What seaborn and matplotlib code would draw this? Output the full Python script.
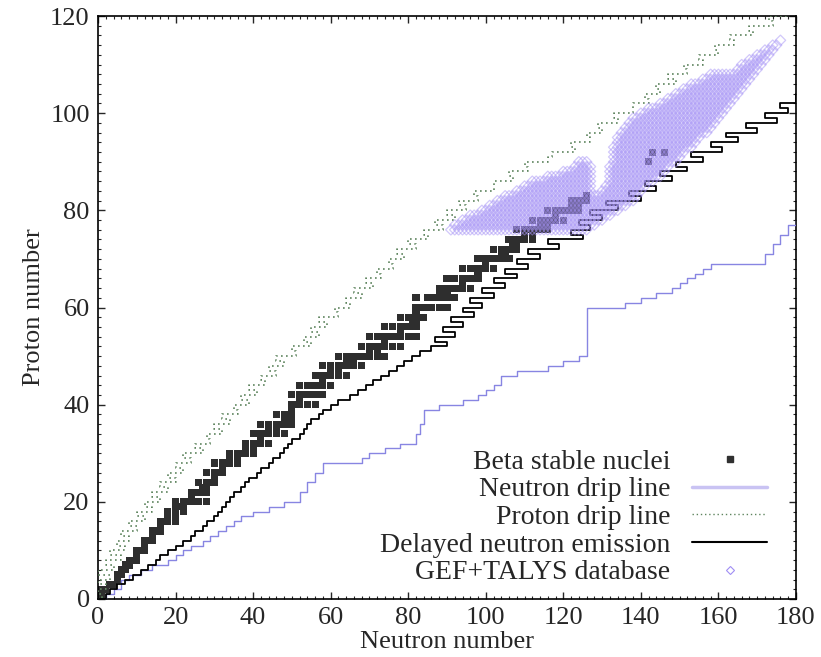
import matplotlib
matplotlib.use("Agg")
import matplotlib.pyplot as plt
import seaborn as sns
import pandas as pd
from matplotlib.lines import Line2D
from matplotlib.ticker import MultipleLocator

# beta stable nuclei: proton number and the stable neutron numbers for it
stable_Z = [1, 2, 3, 4, 5, 6, 7, 8, 9, 10, 11, 12, 13, 14, 15, 16, 17, 18, 19, 20,
            21, 22, 23, 24, 25, 26, 27, 28, 29, 30, 31, 32, 33, 34, 35, 36, 37, 38, 39, 40,
            41, 42, 44, 45, 46, 47, 48, 49, 50, 51, 52, 53, 54, 55, 56, 57, 58, 59, 60, 62,
            63, 64, 65, 66, 67, 68, 69, 70, 71, 72, 73, 74, 75, 76, 77, 78, 79, 80, 81, 82,
            83, 90, 92]
stable_N = [[0, 1], [1, 2], [3, 4], [5], [5, 6], [6, 7], [7, 8], [8, 9, 10], [10], [10, 11, 12],
            [12], [12, 13, 14], [14], [14, 15, 16], [16], [16, 17, 18, 20], [18, 20], [18, 20, 22],
            [20, 21, 22], [20, 22, 23, 24, 26, 28], [24], [24, 25, 26, 27, 28], [27, 28],
            [26, 28, 29, 30], [30], [28, 30, 31, 32], [32], [30, 32, 33, 34, 36], [34, 36],
            [34, 36, 37, 38, 40], [38, 40], [38, 40, 41, 42, 44], [42], [40, 42, 43, 44, 46, 48],
            [44, 46], [42, 44, 46, 47, 48, 50], [48, 50], [46, 48, 49, 50], [50],
            [50, 51, 52, 54, 56], [52], [50, 52, 53, 54, 55, 56, 58], [52, 54, 55, 56, 57, 58, 60],
            [58], [56, 58, 59, 60, 62, 64], [60, 62], [58, 60, 62, 63, 64, 65, 66, 68], [64, 66],
            [62, 64, 65, 66, 67, 68, 69, 70, 72, 74], [70, 72], [68, 70, 71, 72, 73, 74, 76, 78],
            [74], [70, 72, 74, 75, 76, 77, 78, 80, 82], [78], [74, 76, 78, 79, 80, 81, 82],
            [81, 82], [78, 80, 82, 84], [82], [82, 83, 84, 85, 86, 88, 90],
            [82, 85, 86, 87, 88, 90, 92], [88, 90], [88, 90, 91, 92, 93, 94, 96], [94],
            [90, 92, 94, 95, 96, 97, 98], [98], [94, 96, 98, 99, 100, 102], [100],
            [98, 100, 101, 102, 103, 104, 106], [104, 105], [102, 104, 105, 106, 107, 108],
            [107, 108], [106, 108, 109, 110, 112], [110, 112], [108, 110, 111, 112, 113, 114, 116],
            [114, 116], [112, 114, 116, 117, 118, 120], [118], [116, 118, 119, 120, 121, 122, 124],
            [122, 124], [122, 124, 125, 126], [126], [142], [143, 146]]

# neutron drip line (step corners)
ndrip_N = [0, 2, 4, 6, 8, 11, 14, 18, 20, 22, 24, 27, 29, 31, 33, 35, 37, 40, 44, 48, 52,
           54, 56, 58, 68, 70, 74, 78, 82, 83, 84, 88, 94, 98, 100, 102, 104, 108, 116, 120,
           124, 126, 136, 140, 144, 148, 150, 152, 154, 156, 158, 172, 174, 176, 178, 180]
ndrip_Z = [0, 1, 2, 4, 5, 6, 7, 8, 9, 10, 11, 12, 13, 14, 15, 16, 17, 18, 19, 20, 22,
           24, 26, 28, 29, 30, 31, 32, 34, 36, 39, 40, 41, 42, 43, 44, 46, 47, 48, 49,
           50, 60, 61, 62, 63, 64, 65, 66, 67, 68, 69, 71, 73, 75, 77, 78]

# proton drip line: neutron number where each Z row starts (Z = 0, 1, 2, ...)
pdrip_N = [0, 1, 0, 2, 0, 3, 0, 4, 2, 6, 3, 7, 5, 8, 6, 10, 8, 12, 10, 14,
           12, 16, 14, 18, 16, 20, 18, 22, 20, 24, 22, 27, 25, 29, 28, 32, 30, 34, 32, 36,
           35, 39, 37, 41, 39, 43, 42, 46, 44, 48, 46, 51, 50, 55, 53, 57, 55, 59, 57, 62,
           61, 65, 64, 68, 66, 71, 69, 73, 72, 76, 75, 79, 77, 82, 80, 85, 84, 89, 87, 92,
           90, 95, 93, 98, 97, 102, 102, 107, 106, 111, 110, 116, 117, 123, 122, 127, 126, 130, 129, 134,
           133, 138, 138, 142, 141, 145, 144, 149, 147, 152, 151, 156, 155, 160, 159, 164, 163, 169, 168, 174,
           173, 178]

# delayed neutron emission boundary: neutron number where each Z row starts
delayed_N = [0, 2, 3, 5, 7, 9, 11, 13, 15, 16, 18, 20, 22, 24, 25, 27, 28, 30, 31, 32,
             33, 34, 35, 37, 38, 39, 41, 42, 44, 45, 47, 48, 49, 50, 52, 53, 54, 55, 57, 58,
             60, 62, 65, 67, 69, 71, 73, 75, 77, 79, 81, 83, 86, 90, 87, 92, 89, 94, 91, 97,
             94, 99, 96, 102, 99, 105, 102, 108, 105, 111, 108, 114, 111, 119, 116, 125, 122, 127, 124, 130,
             127, 134, 131, 140, 137, 144, 141, 148, 145, 152, 149, 156, 153, 161, 158, 165, 162, 170, 167, 175,
             172, 178, 176, 180, 180]

# GEF+TALYS database coverage: Z and neutron range per row segment
gef_Z = [76, 77, 78, 79, 80, 81, 82, 83, 84, 84, 85, 85, 86, 86, 87, 87, 88, 88, 89, 89,
         90, 90, 91, 92, 93, 94, 95, 96, 97, 98, 99, 100, 101, 102, 103, 104, 105, 106, 107, 108,
         109, 110, 111, 112, 113, 114, 115]
gef_Nmin = [91, 92, 94, 96, 99, 101, 103, 105, 108, 130, 110, 131, 112, 132, 116, 132, 120, 132, 123, 132,
            124, 133, 133, 133, 133, 134, 134, 135, 136, 137, 138, 140, 142, 145, 147, 149, 151, 153, 156, 158,
            165, 166, 168, 170, 172, 174, 176]
gef_Nmax = [126, 128, 130, 132, 134, 136, 138, 139, 127, 140, 127, 141, 127, 143, 127, 145, 127, 146, 127, 147,
            126, 149, 150, 151, 153, 154, 155, 157, 158, 159, 160, 161, 162, 163, 164, 165, 166, 167, 168, 169,
            170, 171, 172, 173, 174, 175, 176]

stable = pd.DataFrame([(n, z) for z, ns in zip(stable_Z, stable_N) for n in ns], columns=["N", "Z"])
gef = pd.DataFrame([(n, z) for z, lo, hi in zip(gef_Z, gef_Nmin, gef_Nmax) for n in range(lo, hi + 1)],
                   columns=["N", "Z"])

sns.set_style("ticks")
plt.rcParams["font.family"] = ["Liberation Serif", "DejaVu Serif"]

fig = plt.figure(figsize=(8.21, 6.57), dpi=100)
ax = fig.add_axes([0.1194, 0.0883, 0.8501, 0.8873])

sns.scatterplot(data=stable, x="N", y="Z", marker="s", s=26, color="#2e2e2e",
                edgecolor="none", ax=ax, zorder=2, legend=False)
sns.lineplot(x=ndrip_N, y=ndrip_Z, sort=False, estimator=None, drawstyle="steps-post",
             color="#8885e2", lw=1.0, ax=ax, zorder=3, legend=False)
sns.lineplot(x=pdrip_N, y=list(range(len(pdrip_N))), sort=False, estimator=None,
             drawstyle="steps-post", color="#5f855f", lw=1.2, linestyle=(0, (1, 2)),
             ax=ax, zorder=3, legend=False)
sns.lineplot(x=delayed_N, y=list(range(len(delayed_N))), sort=False, estimator=None,
             drawstyle="steps-post", color="black", lw=1.3, ax=ax, zorder=3, legend=False)
sns.scatterplot(data=gef, x="N", y="Z", marker="D", s=28, facecolor="none",
                edgecolor="#a592f6", linewidth=0.9, alpha=0.5, ax=ax, zorder=4, legend=False)

ax.set_xlim(0, 180)
ax.set_ylim(0, 120)
ax.xaxis.set_major_locator(MultipleLocator(20))
ax.xaxis.set_minor_locator(MultipleLocator(2))
ax.yaxis.set_major_locator(MultipleLocator(20))
ax.yaxis.set_minor_locator(MultipleLocator(2))
ax.tick_params(which="both", direction="in", top=True, right=True, labelsize=19, pad=6)
ax.tick_params(which="major", length=5, width=1)
ax.tick_params(which="minor", length=2.5, width=0.8)
for sp in ax.spines.values():
    sp.set_linewidth(1.2)
    sp.set_color("black")

ax.set_xlabel("Neutron number", fontsize=19, labelpad=1)
ax.set_ylabel("Proton number", fontsize=19, labelpad=4)

handles = [
    Line2D([], [], ls="none", marker="s", ms=4, color="#303030"),
    Line2D([], [], color="#c9c3f3", lw=2.5),
    Line2D([], [], color="#5f855f", lw=1.0, ls=(0, (1, 2))),
    Line2D([], [], color="black", lw=1.5),
    Line2D([], [], ls="none", marker="D", ms=4, mfc="none", mec="#a08ef4", mew=0.8),
]
labels = ["Beta stable nuclei", "Neutron drip line", "Proton drip line",
          "Delayed neutron emission", "GEF+TALYS database"]
ax.legend(handles, labels, loc="lower right", bbox_to_anchor=(0.983, -0.005), frameon=False,
          markerfirst=False, fontsize=20, handlelength=2.7, handletextpad=0.8,
          labelspacing=0.08, borderaxespad=0.2)

fig.savefig("out.png", dpi=100)
